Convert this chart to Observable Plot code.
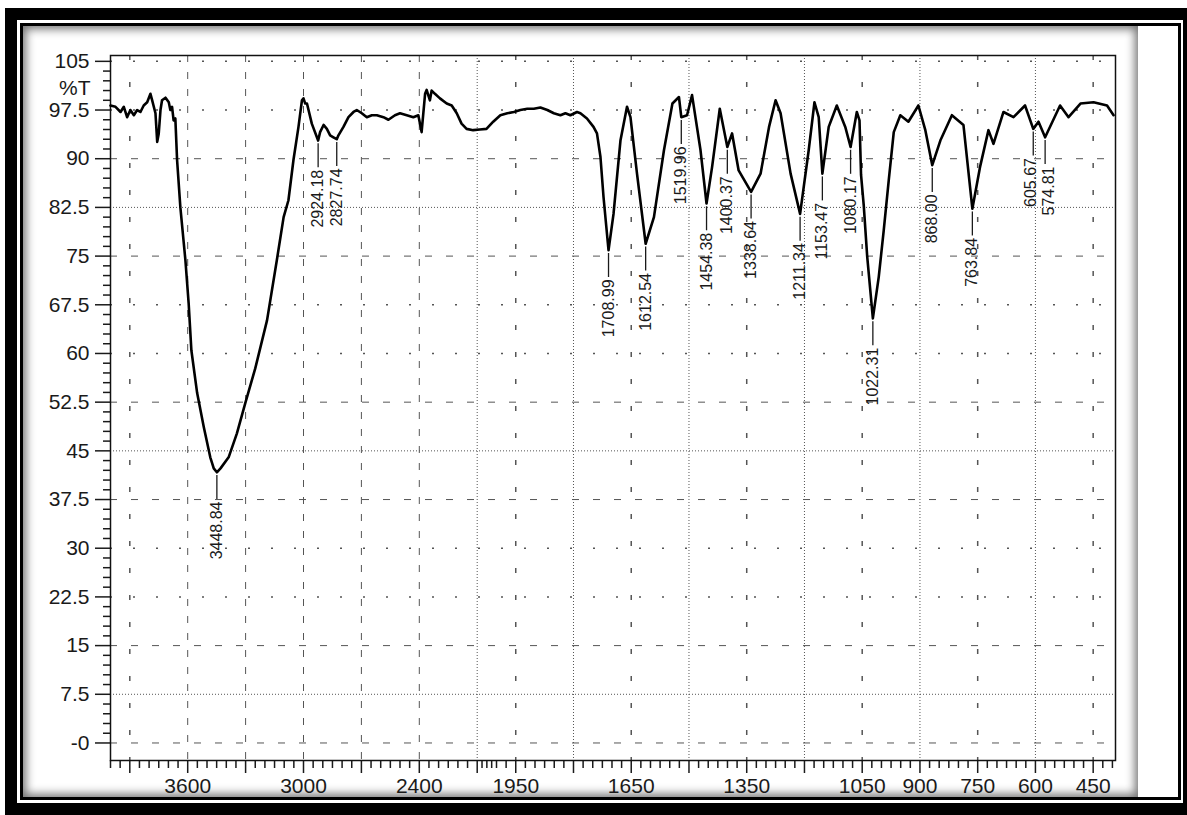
<!DOCTYPE html>
<html>
<head>
<meta charset="utf-8">
<script src="https://cdn.jsdelivr.net/npm/d3@7"></script>
<script src="https://cdn.jsdelivr.net/npm/@observablehq/plot@0.6"></script>
<style>
  html, body { margin: 0; padding: 0; background: #fff; }
  #page { position: relative; width: 1187px; height: 815px; overflow: hidden; background: #fff; }
  .outer { position: absolute; left: 5px; top: 8px; width: 1182px; height: 807px; background: #000; }
  .gap { position: absolute; left: 17px; top: 20px; width: 1166px; height: 783px; background: #fff; }
  .inner { position: absolute; left: 20px; top: 23px; width: 1161px; height: 777px; box-sizing: border-box; border: 3px solid #000; background: #fff; }
  .panel { position: absolute; left: 23px; top: 26px; width: 1115px; height: 771px; background: #fff;
           box-shadow: inset 0 0 10px 3px rgba(0,0,0,0.55); }
  #chart { position: absolute; left: 0; top: 0; }
</style>
</head>
<body>
<div id="page">
  <div class="outer"></div>
  <div class="gap"></div>
  <div class="inner"></div>
  <div class="panel"></div>
  <div id="chart"></div>
</div>
<script>
// FTIR spectrum: wavenumber (cm-1) and transmittance (%T)
const wavenumber = [
  4000, 3974, 3948, 3931, 3914, 3897, 3879, 3862, 3845, 3828, 3810, 3793, 3784, 3767, 3758, 3750,
  3741, 3733, 3715, 3698, 3690, 3681, 3673, 3664, 3655, 3638, 3612, 3595, 3581, 3551, 3517, 3483,
  3465, 3448.84, 3430, 3388, 3345, 3302, 3250, 3189, 3138, 3103, 3078, 3052, 3026, 3008, 3000, 2991,
  2982, 2957, 2924.18, 2914, 2896, 2879, 2862, 2845, 2827.74, 2819, 2793, 2767, 2741, 2724, 2698, 2672,
  2646, 2620, 2586, 2560, 2526, 2500, 2465, 2431, 2405, 2388, 2370, 2362, 2345, 2336, 2319, 2293,
  2258, 2232, 2206, 2181, 2155, 2121, 2086, 2052, 2017, 1990, 1972, 1955, 1938, 1920, 1903, 1886,
  1868, 1851, 1834, 1821, 1808, 1791, 1782, 1765, 1748, 1739, 1730, 1722, 1708.99, 1696, 1678, 1661,
  1652, 1635, 1612.54, 1591, 1565, 1543, 1526, 1519.96, 1505, 1492, 1470, 1454.38, 1440, 1420, 1400.37, 1388,
  1371, 1338.64, 1314, 1292, 1275, 1262, 1236, 1211.34, 1189, 1174, 1163, 1153.47, 1137, 1116, 1094, 1080.17,
  1064, 1057, 1053, 1046, 1037, 1022.31, 1007, 994, 981, 968, 951, 930, 904, 886, 868.00, 847,
  817, 787, 763.84, 744, 722, 709, 683, 657, 627, 605.67, 592, 574.81, 536, 514, 483, 449,
  414, 397
];
const transmittance = [
  98.2, 98.0, 97.2, 98.0, 96.4, 97.5, 96.7, 97.5, 97.2, 98.2, 98.7, 100.0, 99.0, 97.0, 92.6, 93.9,
  97.5, 99.0, 99.4, 98.7, 97.5, 98.0, 95.9, 96.2, 89.8, 82.5, 74.4, 67.7, 60.5, 53.9, 48.7, 44.0,
  42.3, 41.7, 42.3, 44.0, 47.7, 52.3, 57.7, 65.1, 74.4, 81.0, 83.6, 89.8, 94.9, 99.0, 99.3, 98.5,
  98.5, 95.4, 92.8, 94.1, 95.2, 94.6, 93.6, 93.3, 93.0, 93.6, 94.9, 96.4, 97.2, 97.5, 97.0, 96.4,
  96.7, 96.7, 96.4, 96.0, 96.7, 97.0, 96.7, 96.4, 96.7, 94.1, 100.0, 100.6, 99.0, 100.5, 100.0, 99.3,
  98.5, 98.2, 97.0, 95.4, 94.6, 94.4, 94.5, 94.6, 95.7, 96.7, 97.0, 97.2, 97.5, 97.7, 97.7, 97.9,
  97.5, 97.0, 96.7, 97.0, 96.7, 97.2, 97.0, 96.2, 94.9, 93.9, 90.3, 84.1, 75.9, 81.5, 92.8, 98.0,
  96.4, 87.7, 76.9, 81.0, 91.3, 98.5, 99.5, 96.4, 96.7, 99.8, 91.3, 83.1, 88.7, 97.7, 91.8, 93.9,
  88.2, 84.9, 87.7, 94.9, 99.0, 97.0, 87.7, 81.5, 91.3, 98.7, 96.4, 87.7, 94.9, 98.2, 94.9, 91.8,
  97.2, 95.9, 87.5, 82.8, 74.9, 65.4, 71.8, 79.0, 86.7, 94.1, 96.7, 95.7, 98.2, 94.4, 89.0, 92.8,
  96.7, 95.2, 82.3, 88.7, 94.4, 92.3, 97.2, 96.4, 98.2, 94.6, 95.7, 93.3, 98.2, 96.4, 98.5, 98.7,
  98.2, 96.7
];

// Annotated band minima
const peakWavenumber = [3448.84, 2924.18, 2827.74, 1708.99, 1612.54, 1519.96, 1454.38, 1400.37, 1338.64,
  1211.34, 1153.47, 1080.17, 1022.31, 868.00, 763.84, 605.67, 574.81];
const peakTransmittance = [41.7, 92.8, 93.0, 75.9, 76.9, 96.4, 83.1, 91.8, 84.9,
  81.5, 87.7, 91.8, 65.4, 89.0, 82.3, 94.6, 93.3];
// label nudges (px) for the crowded pair near 600 cm-1
const peakLabelShift = [0, 0, 0, 0, 0, 0, 0, 0, 0, 0, 0, 0, 0, 0, 0, -2, 4];

// Axis ticks
const xMajorTicks = [3900, 3600, 3300, 3000, 2700, 2400, 2100, 1950, 1800, 1650, 1500, 1350, 1200, 1050, 900, 750, 600, 450];
const xLabelledTicks = [3600, 3000, 2400, 1950, 1650, 1350, 1050, 900, 750, 600, 450];
const yTicks = [0, 7.5, 15, 22.5, 30, 37.5, 45, 52.5, 60, 67.5, 75, 82.5, 90, 97.5, 105];

// Grid line styles
const yGridDense = [7.5, 45, 82.5];
const yGridDashed = [0, 15, 37.5, 52.5, 75, 90];
const yGridSparse = [22.5, 30, 60, 67.5, 97.5, 105];
const xGridDense = [2100, 1800, 1500, 1200, 900, 600];
const xGridDashed = [3600, 3300, 3000, 2700, 2400];
const xGridSparse = [3900, 1950, 1650, 1350, 1050, 750, 450];

const spectrum = wavenumber.map((w, i) => ({w, t: transmittance[i]}));
const peaks = peakWavenumber.map((w, i) => ({w, t: peakTransmittance[i], label: w.toFixed(2), shift: peakLabelShift[i]}));

// minor ticks: every 50 above 2100 cm-1, every 25 below; every 1.5 %T
const xMinorTicks = [];
for (let w = 4000; w > 2100; w -= 50) if (!xMajorTicks.includes(w)) xMinorTicks.push(w);
for (let w = 2100; w >= 400; w -= 25) if (!xMajorTicks.includes(w)) xMinorTicks.push(w);
const yMinorTicks = [];
for (let k = 0; k <= 70; k++) { const v = +(k * 1.5).toFixed(1); if (!yTicks.includes(v)) yMinorTicks.push(v); }

const gridColor = "#555";
const labelOffsets = [...new Set(peakLabelShift)];

const chart = Plot.plot({
  width: 1187,
  height: 815,
  marginLeft: 110,
  marginRight: 72,
  marginTop: 55,
  marginBottom: 55,
  style: {background: "transparent", fontFamily: "'Liberation Sans', Arial, sans-serif", color: "#1a1a1a", overflow: "visible"},
  x: {type: "linear", domain: [4000, 2000, 392], range: [110, 496, 1115]},
  y: {domain: [-2.7, 105.9]},
  marks: [
    Plot.ruleY(yGridDense, {stroke: gridColor, strokeWidth: 1, strokeDasharray: "1,2"}),
    Plot.ruleY(yGridDashed, {stroke: gridColor, strokeWidth: 1, strokeDasharray: "7,14"}),
    Plot.ruleY(yGridSparse, {stroke: gridColor, strokeWidth: 1.5, strokeDasharray: "2,21"}),
    Plot.ruleX(xGridDense, {stroke: gridColor, strokeWidth: 1, strokeDasharray: "1,2"}),
    Plot.ruleX(xGridDashed, {stroke: gridColor, strokeWidth: 1, strokeDasharray: "7,10"}),
    Plot.ruleX(xGridSparse, {stroke: gridColor, strokeWidth: 1.5, strokeDasharray: "5,22"}),
    Plot.axisY(yMinorTicks, {tickSize: 7, tickFormat: () => "", label: null, strokeWidth: 1.5}),
    Plot.axisY(yTicks, {tickSize: 15, tickPadding: 6, fontSize: 21, label: null, strokeWidth: 1.5,
      tickFormat: d => d === 0 ? "-0" : String(d)}),
    Plot.axisX(xMinorTicks, {tickSize: 8, tickFormat: () => "", label: null, strokeWidth: 1.5}),
    Plot.axisX(xMajorTicks, {tickSize: 13, tickPadding: 5, fontSize: 21, label: null, strokeWidth: 1.5,
      tickFormat: d => xLabelledTicks.includes(d) ? String(d) : ""}),
    Plot.text(["%T"], {frameAnchor: "top-left", dx: -20, dy: 25, textAnchor: "end", fontSize: 21, fill: "#1a1a1a"}),
    Plot.frame({stroke: "#111", strokeWidth: 1.5}),
    Plot.line(spectrum, {x: "w", y: "t", stroke: "#000", strokeWidth: 2.6, strokeLinejoin: "round"}),
    Plot.ruleX(peaks, {x: "w", y1: d => d.t - 0.5, y2: d => d.t - 4.2, stroke: "#1a1a1a", strokeWidth: 1.3}),
    // one text layer per nudge value
    ...labelOffsets.map(s => Plot.text(peaks.filter(d => d.shift === s), {
      x: "w", y: d => d.t - 4.5, text: "label", rotate: -90, textAnchor: "end",
      fontSize: 16, fill: "#1a1a1a", dx: s
    }))
  ]
});

document.getElementById("chart").appendChild(chart);
</script>
</body>
</html>
